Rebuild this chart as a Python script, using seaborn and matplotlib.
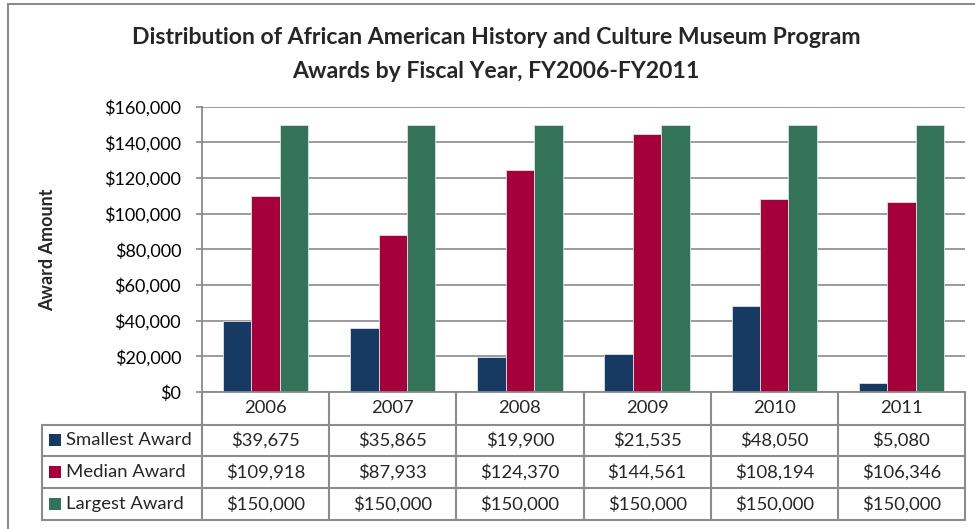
import matplotlib
matplotlib.use("Agg")
import matplotlib.pyplot as plt
import seaborn as sns
import pandas as pd
from matplotlib.lines import Line2D
from matplotlib.patches import Rectangle
from matplotlib.ticker import FuncFormatter

# Award data by fiscal year
years = ["2006", "2007", "2008", "2009", "2010", "2011"]
series = ["Smallest Award", "Median Award", "Largest Award"]
smallest = [39675, 35865, 19900, 21535, 48050, 5080]
median = [109918, 87933, 124370, 144561, 108194, 106346]
largest = [150000, 150000, 150000, 150000, 150000, 150000]
colors = ["#173A62", "#A5003A", "#33735A"]

title_lines = ["Distribution of African American History and Culture Museum Program",
               "Awards by Fiscal Year, FY2006-FY2011"]

values = {"Smallest Award": smallest, "Median Award": median, "Largest Award": largest}
df = pd.DataFrame([
    {"Year": y, "Series": s, "Amount": values[s][i]}
    for s in series for i, y in enumerate(years)
])

sns.set_style("white")
plt.rcParams["font.family"] = ["Lato", "DejaVu Sans"]

W, H = 975, 529
fig = plt.figure(figsize=(W / 100, H / 100), dpi=100)


def fx(px):
    return px / W


def fy(py):
    return 1 - py / H


TXT = 13.3

# plot area in pixel geometry
x0, x1 = 202, 965
ytop, ybot = 106.7, 392
ax = fig.add_axes([fx(x0), fy(ybot), fx(x1) - fx(x0), fy(ytop) - fy(ybot)])

sns.barplot(data=df, x="Year", y="Amount", hue="Series", hue_order=series,
            order=years, palette=colors, width=0.67, gap=0, ax=ax,
            edgecolor="#dde2ea", linewidth=0.6, legend=False, errorbar=None,
            saturation=1)

ax.set_xlim(-0.5, len(years) - 0.5)
ax.set_ylim(0, 160000)
ax.set_yticks(range(0, 160001, 20000))
ax.yaxis.set_major_formatter(FuncFormatter(lambda v, p: f"${int(v):,}"))
ax.yaxis.grid(True, color="#8a8a8a", linewidth=1.2)
ax.set_axisbelow(True)
ax.set_xticks([])
ax.set_xlabel("")
ax.set_ylabel("")
for side in ["top", "right"]:
    ax.spines[side].set_visible(False)
for side in ["left", "bottom"]:
    ax.spines[side].set_color("#8a8a8a")
    ax.spines[side].set_linewidth(1.3)
ax.tick_params(axis="y", length=4, width=1.2, color="#8a8a8a", pad=11,
               labelsize=13, labelcolor="black", left=True)

# y-axis title
fig.text(fx(48), fy(250), "Award Amount", rotation=90, ha="center",
         va="center", fontsize=13, fontweight="bold")

# chart title
for ty, line in zip([37, 71], title_lines):
    fig.text(fx(496), fy(ty), line, ha="center", va="center", fontsize=16.6,
             fontweight="bold")

# data table below the plot
line_kw = dict(color="#8c8c8c", linewidth=1.5, transform=fig.transFigure)
col_w = (x1 - x0) / len(years)
col_edges = [x0 + i * col_w for i in range(len(years) + 1)]
row_edges = [392, 424.5, 456, 488, 520]
left_x = 42

for ry in row_edges[1:]:
    fig.add_artist(Line2D([fx(left_x), fx(x1)], [fy(ry), fy(ry)], **line_kw))
fig.add_artist(Line2D([fx(left_x), fx(left_x)], [fy(row_edges[1]), fy(row_edges[-1])], **line_kw))
for cx in col_edges:
    fig.add_artist(Line2D([fx(cx), fx(cx)], [fy(row_edges[0]), fy(row_edges[-1])], **line_kw))

for i, y in enumerate(years):
    cx = (col_edges[i] + col_edges[i + 1]) / 2
    fig.text(fx(cx), fy((row_edges[0] + row_edges[1]) / 2), y, ha="center",
             va="center", fontsize=TXT)

for r, s in enumerate(series):
    cy = (row_edges[r + 1] + row_edges[r + 2]) / 2
    fig.add_artist(Rectangle((fx(49), fy(cy + 6)), fx(12), 12 / H,
                             facecolor=colors[r], edgecolor="none",
                             transform=fig.transFigure))
    fig.text(fx(66), fy(cy), s, ha="left", va="center", fontsize=TXT)
    for i, v in enumerate(values[s]):
        cx = (col_edges[i] + col_edges[i + 1]) / 2
        fig.text(fx(cx), fy(cy), f"${v:,}", ha="center", va="center",
                 fontsize=TXT)

# outer chart frame
fig.add_artist(Rectangle((fx(8), fy(540)), fx(1000), 536 / H, facecolor="none",
                         edgecolor="#8c8c8c", linewidth=1.5,
                         transform=fig.transFigure))

fig.savefig("out.png", dpi=100)
